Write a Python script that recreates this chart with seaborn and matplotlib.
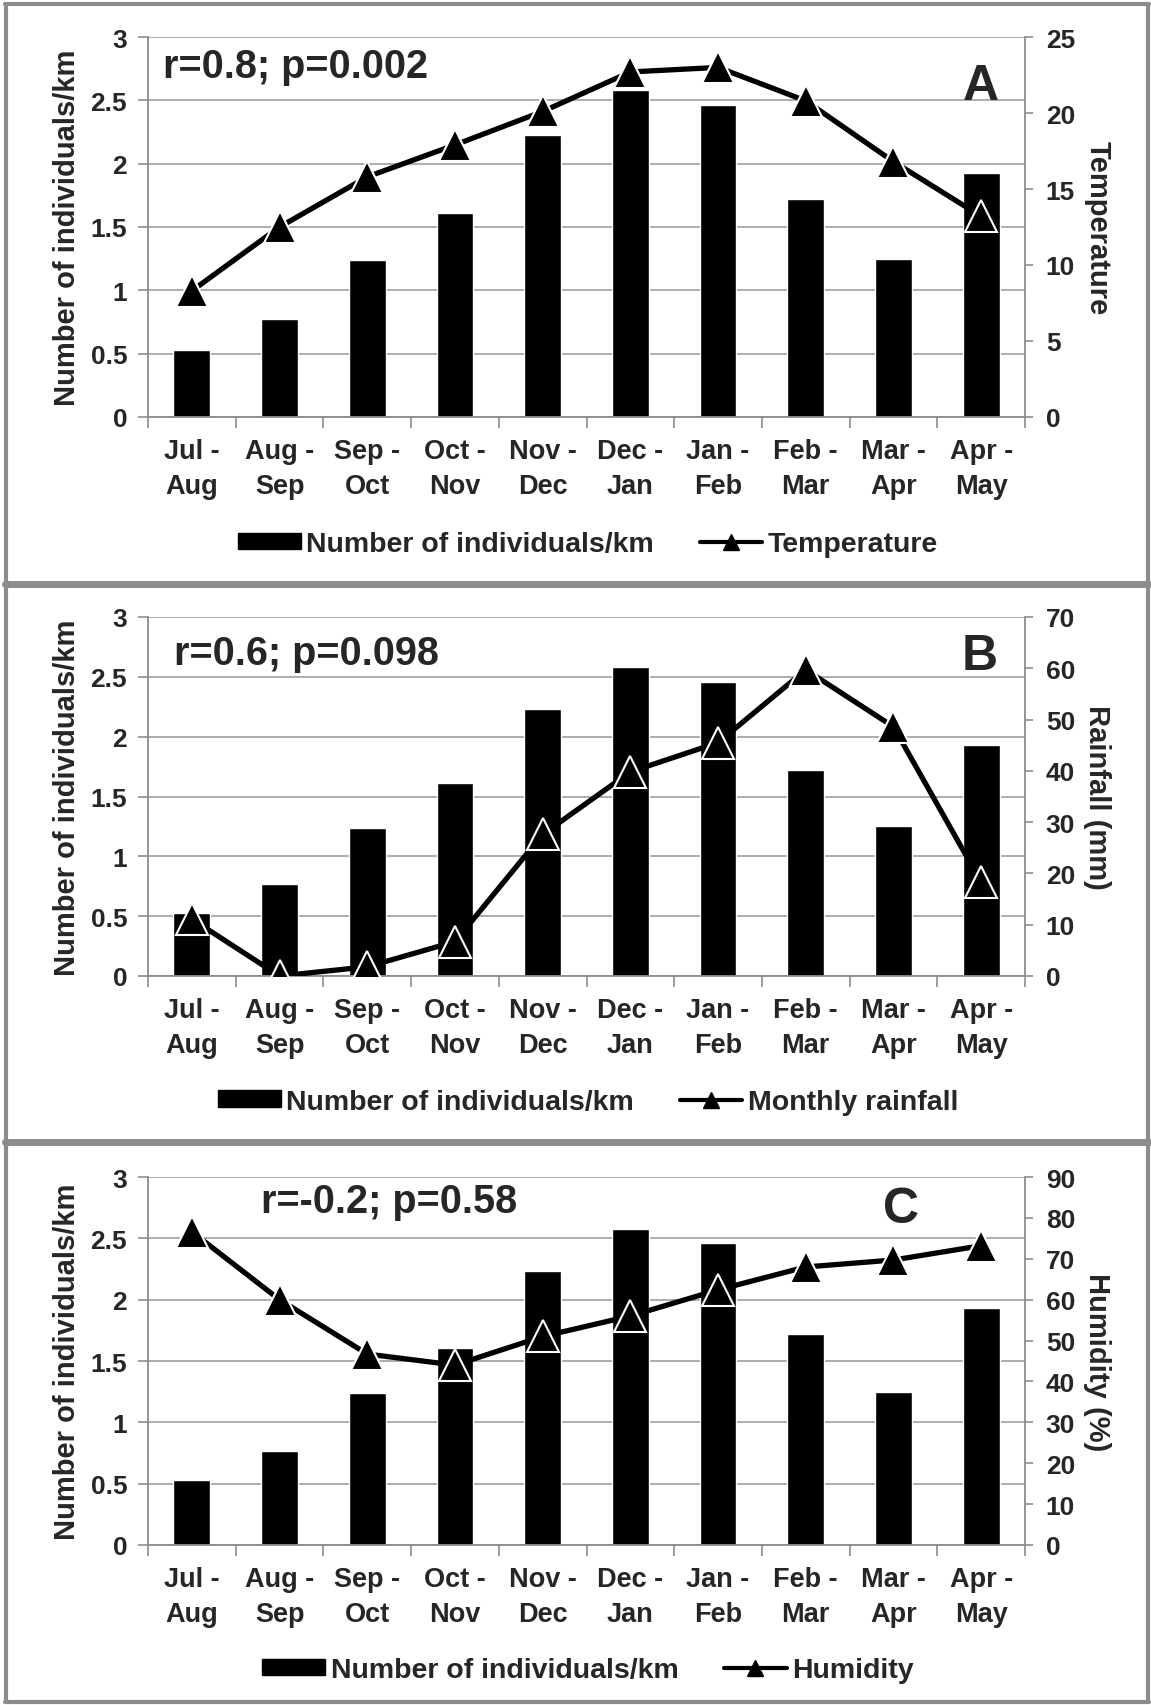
import numpy as np
import pandas as pd
import matplotlib
matplotlib.use("Agg")
import matplotlib.pyplot as plt
from matplotlib.lines import Line2D
from matplotlib.patches import Patch
import seaborn as sns

# --- data ---
periods = ["Jul -\nAug", "Aug -\nSep", "Sep -\nOct", "Oct -\nNov", "Nov -\nDec",
           "Dec -\nJan", "Jan -\nFeb", "Feb -\nMar", "Mar -\nApr", "Apr -\nMay"]
individuals = [0.53, 0.77, 1.24, 1.61, 2.23, 2.58, 2.46, 1.72, 1.25, 1.93]
temperature = [8.3, 12.5, 15.8, 17.9, 20.1, 22.7, 23.0, 20.8, 16.8, 13.2]
rainfall = [11.1, 0.0, 1.8, 6.7, 27.6, 39.8, 45.5, 59.7, 48.6, 18.3]
humidity = [76.6, 60.0, 46.7, 44.0, 51.0, 56.0, 62.4, 68.0, 69.7, 73.2]

panel_letters = ["A", "B", "C"]
stats_text = ["r=0.8; p=0.002", "r=0.6; p=0.098", "r=-0.2; p=0.58"]
line_names = ["Temperature", "Monthly rainfall", "Humidity"]
right_labels = ["Temperature", "Rainfall (mm)", "Humidity (%)"]
right_limits = [(0, 25), (0, 70), (0, 90)]
right_steps = [5, 10, 10]
line_values = [temperature, rainfall, humidity]

sns.set_theme(style="white")
plt.rcParams["font.family"] = ["Liberation Sans", "DejaVu Sans"]
plt.rcParams["font.weight"] = "bold"

GRID = "#a6a6a6"
SPINE = "#8c8c8c"

W, H = 1151, 1706
fig = plt.figure(figsize=(W / 100, H / 100), dpi=100)
fig.patch.set_facecolor("white")

# axes boxes in pixels: (left, top, right, bottom)
boxes = [(148, 38, 1025, 418), (148, 618, 1025, 977), (148, 1178, 1025, 1546)]
stat_pos = [(0.017, 0.924), (0.03, 0.90), (0.129, 0.935)]
letter_pos = [(0.95, 0.871), (0.948, 0.891), (0.859, 0.913)]
legend_y = [-0.335, -0.35, -0.34]

n = len(periods)
df = pd.DataFrame({"period": periods, "pos": np.arange(n), "individuals": individuals})

for i in range(3):
    l, t, r, b = boxes[i]
    ax = fig.add_axes([l / W, 1 - b / H, (r - l) / W, (b - t) / H])
    sns.barplot(data=df, x="period", y="individuals", color="black", saturation=1,
                width=0.42, errorbar=None, ax=ax, zorder=2)
    ax.set_xlim(-0.5, n - 0.5)
    ax.set_ylim(0, 3)
    ax.set_yticks(np.arange(0, 3.01, 0.5))
    ax.set_yticklabels(["0", "0.5", "1", "1.5", "2", "2.5", "3"])
    ax.yaxis.grid(True, color=GRID, lw=1.3)
    ax.set_axisbelow(True)
    ax.set_xticks(np.arange(n + 1) - 0.5, minor=True)
    ax.tick_params(axis="x", which="major", length=0, pad=15, labelsize=19.5)
    ax.tick_params(axis="x", which="minor", length=8, width=1.2, color=SPINE, direction="out", bottom=True)
    ax.tick_params(axis="y", length=7, width=1.2, color=SPINE, direction="out", pad=8, labelsize=19, left=True)
    for lab in ax.get_xticklabels():
        lab.set_linespacing(1.45)
    ax.set_xlabel("")
    ax.set_ylabel("Number of individuals/km", fontsize=21, fontweight="bold", labelpad=7)
    for s in ["top", "right"]:
        ax.spines[s].set_visible(False)
    for s in ["left", "bottom"]:
        ax.spines[s].set_color(SPINE)
        ax.spines[s].set_linewidth(1.3)

    ax2 = ax.twinx()
    sns.lineplot(x=df["pos"], y=line_values[i], ax=ax2, color="black", lw=3.8,
                 marker="^", markersize=23, markeredgecolor="white", markeredgewidth=1.5)
    ax2.set_xlim(-0.5, n - 0.5)
    lo, hi = right_limits[i]
    ax2.set_ylim(lo, hi)
    ax2.set_yticks(np.arange(lo, hi + 0.1, right_steps[i]))
    ax2.tick_params(axis="y", length=6, width=1.2, color=SPINE, direction="out", pad=9, labelsize=19, right=True)
    ax2.set_ylabel(right_labels[i], fontsize=21, fontweight="bold", rotation=270, labelpad=26)
    for s in ["top", "left", "bottom"]:
        ax2.spines[s].set_visible(False)
    ax2.spines["right"].set_color(SPINE)
    ax2.spines["right"].set_linewidth(1.3)
    ax2.grid(False)

    ax2.text(stat_pos[i][0], stat_pos[i][1], stats_text[i], transform=ax2.transAxes,
             fontsize=28.5, fontweight="bold", ha="left", va="center")
    ax2.text(letter_pos[i][0], letter_pos[i][1], panel_letters[i], transform=ax2.transAxes,
             fontsize=36, fontweight="bold", ha="center", va="center")

    handles = [Patch(facecolor="black", edgecolor="black"),
               Line2D([], [], color="black", lw=3, marker="^", markersize=11)]
    ax2.legend(handles, ["Number of individuals/km", line_names[i]], loc="center",
               bbox_to_anchor=(0.502, legend_y[i]), ncol=2, frameon=False,
               fontsize=20.5, handlelength=2.2, handleheight=0.5, handletextpad=0.2,
               columnspacing=1.6)

# panel frames
frame_kw = dict(transform=fig.transFigure, color=SPINE)
for yy, lw in [(5, 3), (585, 5), (1143, 5), (1703, 3)]:
    fig.add_artist(Line2D([0.004, 0.998], [1 - yy / H, 1 - yy / H], lw=lw, **frame_kw))
for xx in [6, 1148]:
    fig.add_artist(Line2D([xx / W, xx / W], [1 - 1703 / H, 1 - 5 / H], lw=3, **frame_kw))

fig.savefig("out.png", dpi=100)
